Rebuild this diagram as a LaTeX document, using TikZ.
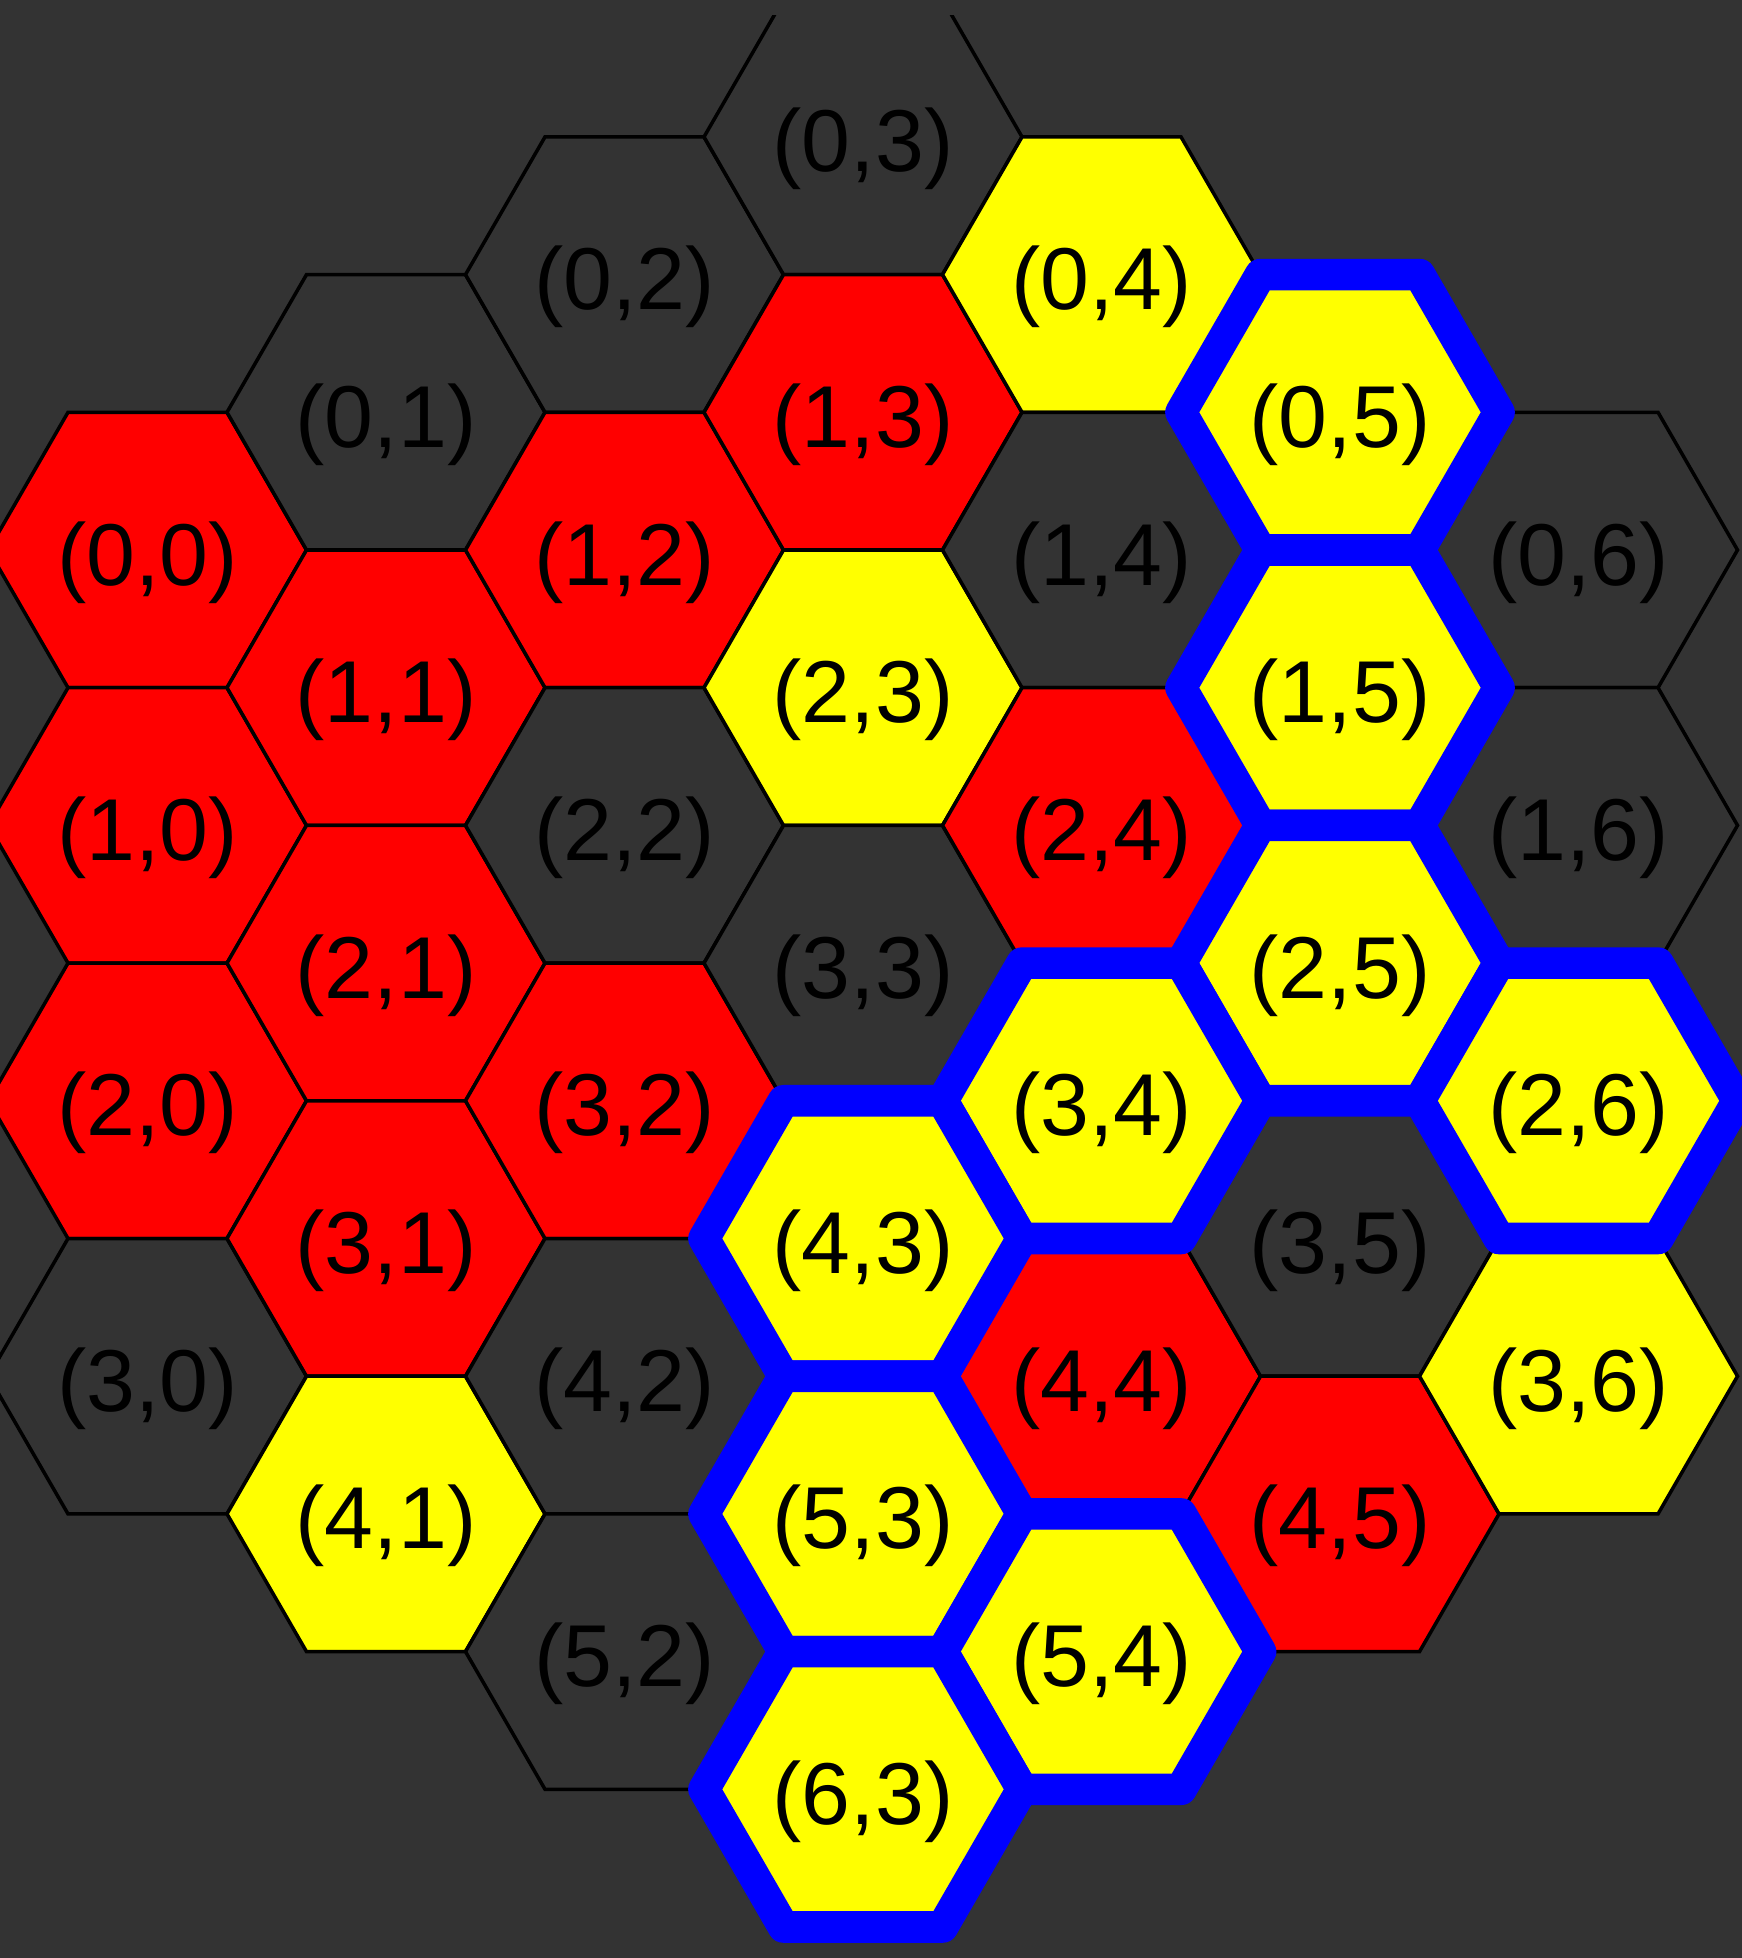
\documentclass[tikz,border=0pt]{standalone}
\usepackage{fontspec}
\setmainfont{Liberation Sans}
\usetikzlibrary{shapes.geometric}
\definecolor{board}{HTML}{333333}
\definecolor{cellred}{HTML}{FF0000}
\definecolor{cellyellow}{HTML}{FFFF00}
\definecolor{pathblue}{HTML}{0000FF}

\begin{document}
\begin{tikzpicture}[
        hx/.style   = {regular polygon, regular polygon sides=6, minimum size=3.18cm, inner sep=0pt, draw=black, line width=1pt,
                       font=\fontsize{25}{29}\selectfont, text height=0.70cm, text depth=0pt},
        rd/.style   = {fill=cellred},
        yl/.style   = {fill=cellyellow},
        dk/.style   = {fill=board},
        ring/.style = {draw=pathblue, line width=9pt, line join=round}
    ]
        \fill[board] (0,0) rectangle (17.42,-19.58);
        \useasboundingbox (0,0) rectangle (17.42,-19.58);
        \clip (0,-0.16) rectangle (17.42,-19.58);

        % column 0
        \node[hx, rd] (h00) at (1.475,-5.500)  {(0,0)};
        \node[hx, rd] (h10) at (1.475,-8.254)  {(1,0)};
        \node[hx, rd] (h20) at (1.475,-11.008) {(2,0)};
        \node[hx, dk] (h30) at (1.475,-13.762) {(3,0)};

        % column 1
        \node[hx, dk] (h01) at (3.860,-4.123)  {(0,1)};
        \node[hx, rd] (h11) at (3.860,-6.877)  {(1,1)};
        \node[hx, rd] (h21) at (3.860,-9.631)  {(2,1)};
        \node[hx, rd] (h31) at (3.860,-12.385) {(3,1)};
        \node[hx, yl] (h41) at (3.860,-15.139) {(4,1)};

        % column 2
        \node[hx, dk] (h02) at (6.245,-2.746)  {(0,2)};
        \node[hx, rd] (h12) at (6.245,-5.500)  {(1,2)};
        \node[hx, dk] (h22) at (6.245,-8.254)  {(2,2)};
        \node[hx, rd] (h32) at (6.245,-11.008) {(3,2)};
        \node[hx, dk] (h42) at (6.245,-13.762) {(4,2)};
        \node[hx, dk] (h52) at (6.245,-16.516) {(5,2)};

        % column 3
        \node[hx, dk] (h03) at (8.630,-1.369)  {(0,3)};
        \node[hx, rd] (h13) at (8.630,-4.123)  {(1,3)};
        \node[hx, yl] (h23) at (8.630,-6.877)  {(2,3)};
        \node[hx, dk] (h33) at (8.630,-9.631)  {(3,3)};

        % column 4
        \node[hx, yl] (h04) at (11.015,-2.746)  {(0,4)};
        \node[hx, dk] (h14) at (11.015,-5.500)  {(1,4)};
        \node[hx, rd] (h24) at (11.015,-8.254)  {(2,4)};
        \node[hx, rd] (h44) at (11.015,-13.762) {(4,4)};

        % column 5
        \node[hx, dk] (h35) at (13.400,-12.385) {(3,5)};
        \node[hx, rd] (h45) at (13.400,-15.139) {(4,5)};

        % column 6
        \node[hx, dk] (h06) at (15.785,-5.500)  {(0,6)};
        \node[hx, dk] (h16) at (15.785,-8.254)  {(1,6)};
        \node[hx, yl] (h36) at (15.785,-13.762) {(3,6)};

        % blue path, drawn last
        \node[hx, yl, ring] (h05) at (13.400,-4.123)  {(0,5)};
        \node[hx, yl, ring] (h15) at (13.400,-6.877)  {(1,5)};
        \node[hx, yl, ring] (h25) at (13.400,-9.631)  {(2,5)};
        \node[hx, yl, ring] (h26) at (15.785,-11.008) {(2,6)};
        \node[hx, yl, ring] (h34) at (11.015,-11.008) {(3,4)};
        \node[hx, yl, ring] (h43) at (8.630,-12.385)  {(4,3)};
        \node[hx, yl, ring] (h53) at (8.630,-15.139)  {(5,3)};
        \node[hx, yl, ring] (h54) at (11.015,-16.516) {(5,4)};
        \node[hx, yl, ring] (h63) at (8.630,-17.893)  {(6,3)};
\end{tikzpicture}
\end{document}
